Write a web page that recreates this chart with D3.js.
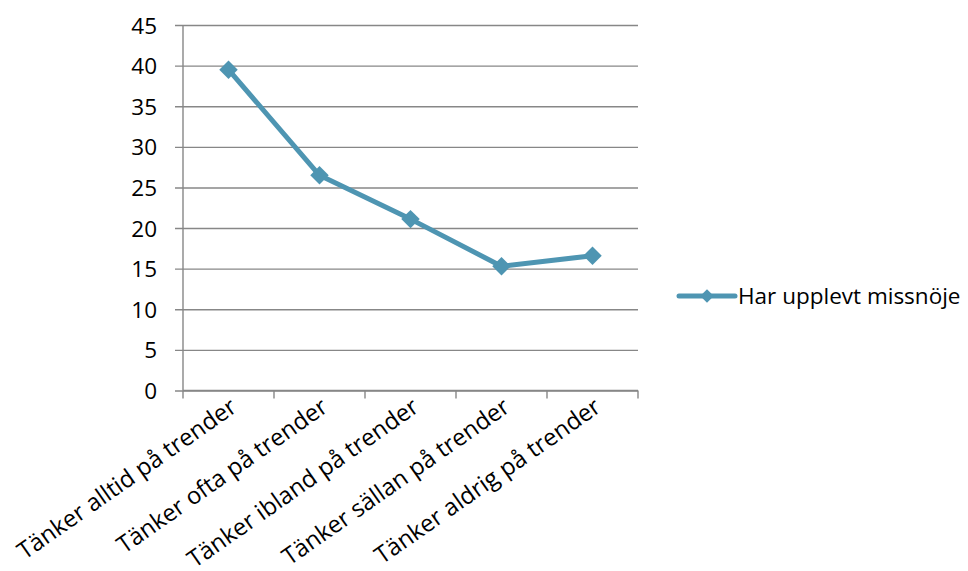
<!DOCTYPE html>
<html>
<head>
<meta charset="utf-8">
<script src="https://cdn.jsdelivr.net/npm/d3@7/dist/d3.min.js"></script>
<style>
  html, body { margin: 0; padding: 0; background: #fff; }
  svg text { font-family: "Open Sans", "Noto Sans", sans-serif; fill: #000; }
</style>
</head>
<body>
<svg id="chart" width="968" height="571"></svg>
<script>
// Share who has experienced dissatisfaction, by how often they think about trends
const categories = [
  "Tänker alltid på trender",
  "Tänker ofta på trender",
  "Tänker ibland på trender",
  "Tänker sällan på trender",
  "Tänker aldrig på trender"
];
const values = [39.5, 26.5, 21.1, 15.3, 16.6];
const seriesName = "Har upplevt missnöje";
const yTicks = [0, 5, 10, 15, 20, 25, 30, 35, 40, 45];

(function draw() {
  const svg = d3.select("#chart");
  const color = "#4E95B2";
  const gridColor = "#878787";
  const fontSize = 22.5;
  const catFontSize = 23.8;

  const plotLeft = 183, plotRight = 638, plotTop = 25, plotBottom = 390.5;

  const x = d3.scaleBand().domain(categories).range([plotLeft, plotRight]).padding(0);
  const y = d3.scaleLinear().domain([0, 45]).range([plotBottom, plotTop]);

  // Horizontal gridlines plus left tick marks
  const yAxis = d3.axisLeft(y).tickValues(yTicks).tickSize(-(plotRight - plotLeft)).tickSizeOuter(0).tickPadding(26);
  const gy = svg.append("g").attr("transform", `translate(${plotLeft},0)`).call(yAxis);
  gy.select(".domain").remove();
  gy.selectAll(".tick line").attr("x1", -8).attr("stroke", gridColor).attr("stroke-width", 1.4);
  gy.selectAll(".tick text").style("font-size", fontSize + "px").attr("dy", "0.36em");

  // Vertical axis line
  svg.append("line")
    .attr("x1", plotLeft).attr("x2", plotLeft).attr("y1", plotTop).attr("y2", plotBottom)
    .attr("stroke", gridColor).attr("stroke-width", 1.4);

  // Category axis with boundary ticks
  const bounds = categories.map(c => x(c)).concat([plotRight]);
  svg.append("line")
    .attr("x1", plotLeft).attr("x2", plotRight).attr("y1", plotBottom).attr("y2", plotBottom)
    .attr("stroke", gridColor).attr("stroke-width", 1.4);
  svg.append("g").selectAll("line").data(bounds).join("line")
    .attr("x1", d => d).attr("x2", d => d)
    .attr("y1", plotBottom).attr("y2", plotBottom + 8)
    .attr("stroke", gridColor).attr("stroke-width", 1.4);

  svg.append("g").selectAll("text").data(categories).join("text")
    .attr("text-anchor", "end")
    .style("font-size", catFontSize + "px")
    .attr("transform", d => `translate(${x(d) + x.bandwidth() / 2 + 10},${plotBottom + 20}) rotate(-35)`)
    .text(d => d);

  // Series line
  const cx = d => x(d) + x.bandwidth() / 2;
  const line = d3.line().x((d, i) => cx(categories[i])).y(d => y(d));
  svg.append("path")
    .datum(values)
    .attr("d", line)
    .attr("fill", "none")
    .attr("stroke", color)
    .attr("stroke-width", 5)
    .attr("stroke-linejoin", "round");

  // Diamond markers
  const diamond = d3.symbol().type(d3.symbolSquare).size(170);
  svg.append("g").selectAll("path").data(values).join("path")
    .attr("d", diamond)
    .attr("fill", color)
    .attr("transform", (d, i) => `translate(${cx(categories[i])},${y(d)}) rotate(45)`);

  // Legend
  const lg = svg.append("g").attr("transform", "translate(679,296)");
  lg.append("line").attr("x1", 0).attr("x2", 56).attr("y1", 0).attr("y2", 0)
    .attr("stroke", color).attr("stroke-width", 5).attr("stroke-linecap", "round");
  lg.append("path").attr("d", d3.symbol().type(d3.symbolSquare).size(90)())
    .attr("fill", color).attr("transform", "translate(28,0) rotate(45)");
  lg.append("text").attr("x", 59).attr("y", 0).attr("dy", "0.36em")
    .style("font-size", fontSize + "px").text(seriesName);
})();
</script>
</body>
</html>
